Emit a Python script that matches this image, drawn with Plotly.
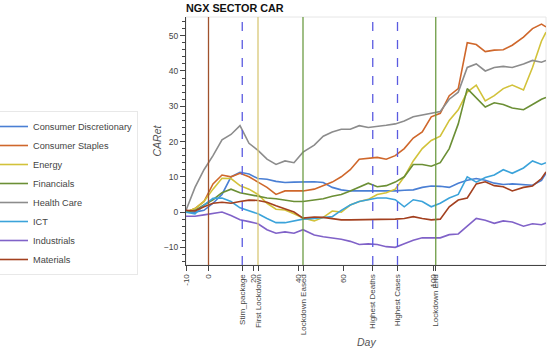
import plotly.graph_objects as go

days = [-10, -6, -2, 2, 6, 10, 14, 18, 22, 26, 30, 34, 38, 42, 47, 51, 55, 59, 63, 67, 71,
        75, 79, 83, 87, 91, 95, 99, 103, 107, 111, 115, 119, 123, 127, 131, 135, 140, 144, 148, 150]

consumer_discretionary = [0, 0, 0.5, 2.5, 5, 10, 11.3, 10.8, 9.5, 9.3, 8.7, 8.4, 8.5, 8.6, 8.6, 8.4, 7, 6.3, 6, 6, 6,
                          6, 5.8, 6, 6.2, 6.3, 7, 7.4, 7.3, 7, 8.2, 9, 9.5, 9, 8.2, 7.8, 8, 7.8, 7.6, 9, 11]
consumer_staples = [0, 1, 3, 8, 10.5, 10, 11, 10, 8.5, 7, 5, 6, 6, 6, 6.5, 7.5, 8.5, 10, 12, 15, 15.3,
                    15.5, 15, 16, 18, 21, 22.7, 27, 28, 33, 35, 48, 47.5, 45.5, 45.9, 46, 47.3, 49.6, 52, 53.3, 52.5]
energy = [0, 1, 3, 6.5, 9.6, 9.5, 7.5, 6.5, 5, 2.5, 0.8, 0.6, -0.5, -1.7, -2.5, -1.5, 0.3, 0, 2, 3, 3.6,
          5, 5.5, 6.5, 10, 14.5, 18, 20.3, 21.5, 26, 29, 34, 36, 31.5, 33, 35, 36, 34.6, 41, 48.5, 51]
financials = [0, 0.5, 2, 3.5, 5.5, 6.5, 5.5, 5, 4.3, 4, 3.8, 3.5, 3, 3, 3.5, 3.8, 4.5, 5, 6, 7.2, 8.2,
              7.2, 7.5, 8.5, 10, 13.5, 13.5, 13, 14, 18, 25, 35, 32.5, 29.8, 31, 30.5, 29.5, 29, 30.5, 32, 32.5]
health_care = [0.5, 7, 12, 16, 20.5, 22, 24.5, 19.5, 17.5, 15, 13.5, 14.5, 14, 17, 19, 21.5, 22.7, 23.5, 23.5, 24.5, 24,
               24.2, 24.6, 25, 25.8, 27, 27.5, 28, 28.5, 32, 34, 41, 42, 40, 41, 41.3, 41, 42, 43, 42.5, 43]
ict = [0, -0.5, 2, 3.9, 4, 3, 1.2, 0.3, -0.5, -1.8, -3, -3, -2.5, -2, -1.8, -1.5, -1.3, 0.5, 2, 3, 3.6,
       4, 4, 3.5, 1.5, 3.5, 3, 1.5, 2.5, 4, 5, 10, 8.5, 9.8, 10.5, 12, 11, 12.5, 14.5, 13.5, 14]
industrials = [-1.2, -1.2, -0.8, -0.3, 0, -1, -2.2, -2.7, -3.3, -5, -6, -5.6, -6, -5, -6.5, -7, -7.3, -7.7, -8.3, -9.2, -9,
               -9.2, -9.8, -10, -9, -8, -7.3, -7.2, -7.3, -6.4, -6.2, -4, -1.8, -2.3, -3.2, -2.5, -2.8, -4, -3.3, -3.6, -3.1]
materials = [0.5, 0.3, 1.5, 2.5, 2.8, 2.5, 3, 3.4, 3.3, 2.8, 1.8, 0.8, 0, -1.7, -1.4, -1.5, -1.8, -2.2, -2.2, -2.2, -2.2,
             -2, -2.2, -2, -1.8, -1.3, -1.8, -2.2, -2, 1.5, 3.4, 4, 8, 8.6, 7.5, 7.2, 6, 7, 7.4, 9.5, 11.4]

series_names = ["Consumer Discretionary", "Consumer Staples", "Energy", "Financials",
                "Health Care", "ICT", "Industrials", "Materials"]
series_values = [consumer_discretionary, consumer_staples, energy, financials,
                 health_care, ict, industrials, materials]
series_colors = ["#4a7fd4", "#cf672b", "#d2c23a", "#6b8f35",
                 "#8c8c8c", "#3ba3da", "#8062c8", "#a3401f"]

event_days = [0, 15, 22, 42, 73, 84, 101]
event_labels = ["", "Stim_package", "First Lockdown", "Lockdown Eased", "Highest Deaths", "Highest Cases", "Lockdown End"]
event_colors = ["#a0522d", "#5b5be0", "#d9c877", "#6d9c44", "#5b5be0", "#5b5be0", "#6d9c44"]
event_dash = ["solid", "dash", "solid", "solid", "dash", "dash", "solid"]

num_ticks = [-10, 0, 20, 40, 60, 100]

fig = go.Figure()
for name, vals, col in zip(series_names, series_values, series_colors):
    fig.add_trace(go.Scatter(x=days, y=vals, mode="lines", name=name,
                             line=dict(color=col, width=1.6)))

shapes = [dict(type="rect", xref="paper", yref="paper", x0=0, x1=1, y0=0, y1=1,
               line=dict(color="#e6e6e6", width=1), layer="below")]
for d, c, ds in zip(event_days, event_colors, event_dash):
    shapes.append(dict(type="line", xref="x", yref="paper", x0=d, x1=d, y0=0, y1=1,
                       line=dict(color=c, width=1.3, dash=ds), layer="above"))

tickvals = num_ticks + [d for d, l in zip(event_days, event_labels) if l]
ticktext = [str(v) for v in num_ticks] + [l for l in event_labels if l]

fig.update_layout(
    width=550, height=352,
    margin=dict(l=186, r=4, t=17, b=87, autoexpand=False),
    paper_bgcolor="white", plot_bgcolor="white",
    font=dict(family="Liberation Sans, Arial, sans-serif", size=9, color="#444"),
    title=dict(text="<b>NGX SECTOR CAR</b>", x=186/550, xanchor="left", xref="container",
               y=1 - 8.5/352, yanchor="middle", yref="container", font=dict(size=10.8, color="#111")),
    shapes=shapes,
    annotations=[dict(text="<i>Day</i>", xref="paper", yref="paper", x=0.5, y=-(342 - 265) / 248,
                      xanchor="center", yanchor="middle", showarrow=False,
                      font=dict(size=10.5, color="#555"))],
    showlegend=True,
    legend=dict(xref="paper", yref="container", x=-8/360 - 186/360, xanchor="left",
                y=1 - 193/352, yanchor="middle",
                font=dict(size=9.2, color="#444"), bordercolor="#e8e8e8", borderwidth=1,
                bgcolor="rgba(255,255,255,0)", tracegroupgap=0),
    xaxis=dict(range=[-10, 150], tickmode="array", tickvals=tickvals, ticktext=ticktext,
               tickangle=-90, ticks="outside", ticklen=5, tickcolor="#444", automargin=False,
               showline=True, linecolor="#444", linewidth=1, showgrid=False, zeroline=False,
               tickfont=dict(size=8, color="#444")),
    yaxis=dict(range=[-15, 55.3], tickvals=[-10, 0, 10, 20, 30, 40, 50], automargin=False,
               ticks="outside", ticklen=5, tickcolor="#444",
               minor=dict(dtick=2, ticks="outside", ticklen=3, tickcolor="#444"),
               showline=True, linecolor="#444", linewidth=1, showgrid=False, zeroline=False,
               tickfont=dict(size=8.5, color="#444"),
               title=dict(text="<i>CARet</i>", font=dict(size=10.5, color="#555"), standoff=0)),
)

fig.write_html("out.html", config={"displayModeBar": False},
               post_script="document.body.style.margin='0';document.body.style.padding='0';")
